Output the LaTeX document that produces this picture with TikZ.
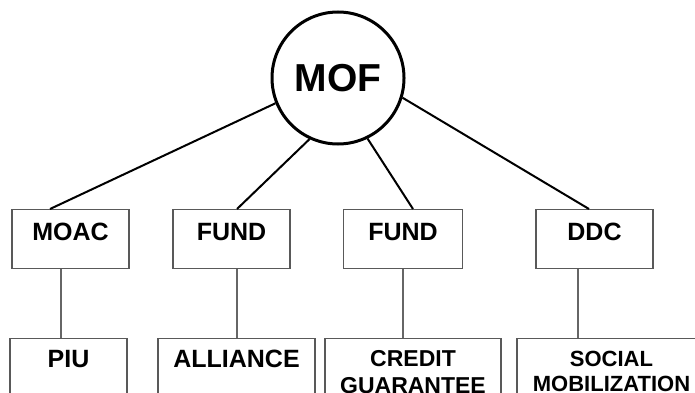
\documentclass[tikz,border=0pt]{standalone}
\usepackage{fontspec}
\setmainfont{Liberation Sans}
\begin{document}
\begin{tikzpicture}[x=1pt, y=1pt,
    unit/.style={draw=black!65, line width=1.3pt, inner sep=0pt, anchor=north,
        minimum width=117pt, text height=31pt, text depth=28pt,
        font=\fontsize{25}{30}\selectfont\bfseries},
    sub/.style={draw=black!65, line width=1.3pt, inner sep=0pt, anchor=north,
        text height=29pt, text depth=60pt,
        font=\fontsize{25}{30}\selectfont\bfseries},
    link/.style={line width=2pt},
    feed/.style={draw=black!60, line width=1.3pt}]
    \useasboundingbox (0,0) rectangle (695,392);

    % Ministry
    \node[circle, draw, line width=3pt, minimum size=132pt, inner sep=0pt,
        font=\fontsize{39}{45}\selectfont\bfseries] (mof) at (338,314) {MOF};

    % First level
    \node[unit] (moac) at (70.5,183) {MOAC};
    \node[unit] (fundA) at (231.5,183) {FUND};
    \node[unit, minimum width=119pt] (fundB) at (403,183) {FUND};
    \node[unit] (ddc) at (594.5,183) {DDC};

    % Second level
    \node[sub, minimum width=117pt] (piu) at (68.5,54.5) {PIU};
    \node[sub, minimum width=157pt] (alliance) at (236.5,54.5) {ALLIANCE};
    \node[sub, minimum width=176pt, text height=28pt, font=\fontsize{23}{27}\selectfont\bfseries]
        (credit) at (413,54.5) {\begin{tabular}[t]{@{}c@{}}CREDIT\\GUARANTEE\end{tabular}};
    \node[sub, minimum width=189pt, text height=28pt, font=\fontsize{22}{25}\selectfont\bfseries]
        (social) at (611.5,54.5) {\begin{tabular}[t]{@{}c@{}}SOCIAL\\MOBILIZATION\end{tabular}};

    % Links from MOF
    \draw[link] (mof.202) -- ([xshift=-20.5pt]moac.north);
    \draw[link] (mof.245) -- ([xshift=5.5pt]fundA.north);
    \draw[link] (mof.296) -- ([xshift=10pt]fundB.north);
    \draw[link] (mof.343) -- ([xshift=-5.5pt]ddc.north);

    % Links to second level
    \draw[feed] ([xshift=-9.5pt]moac.south) -- ([xshift=-9.5pt]moac.south |- piu.north);
    \draw[feed] ([xshift=5.5pt]fundA.south) -- ([xshift=5.5pt]fundA.south |- alliance.north);
    \draw[feed] (fundB.south) -- (fundB.south |- credit.north);
    \draw[feed] ([xshift=-16.5pt]ddc.south) -- ([xshift=-16.5pt]ddc.south |- social.north);
\end{tikzpicture}
\end{document}
